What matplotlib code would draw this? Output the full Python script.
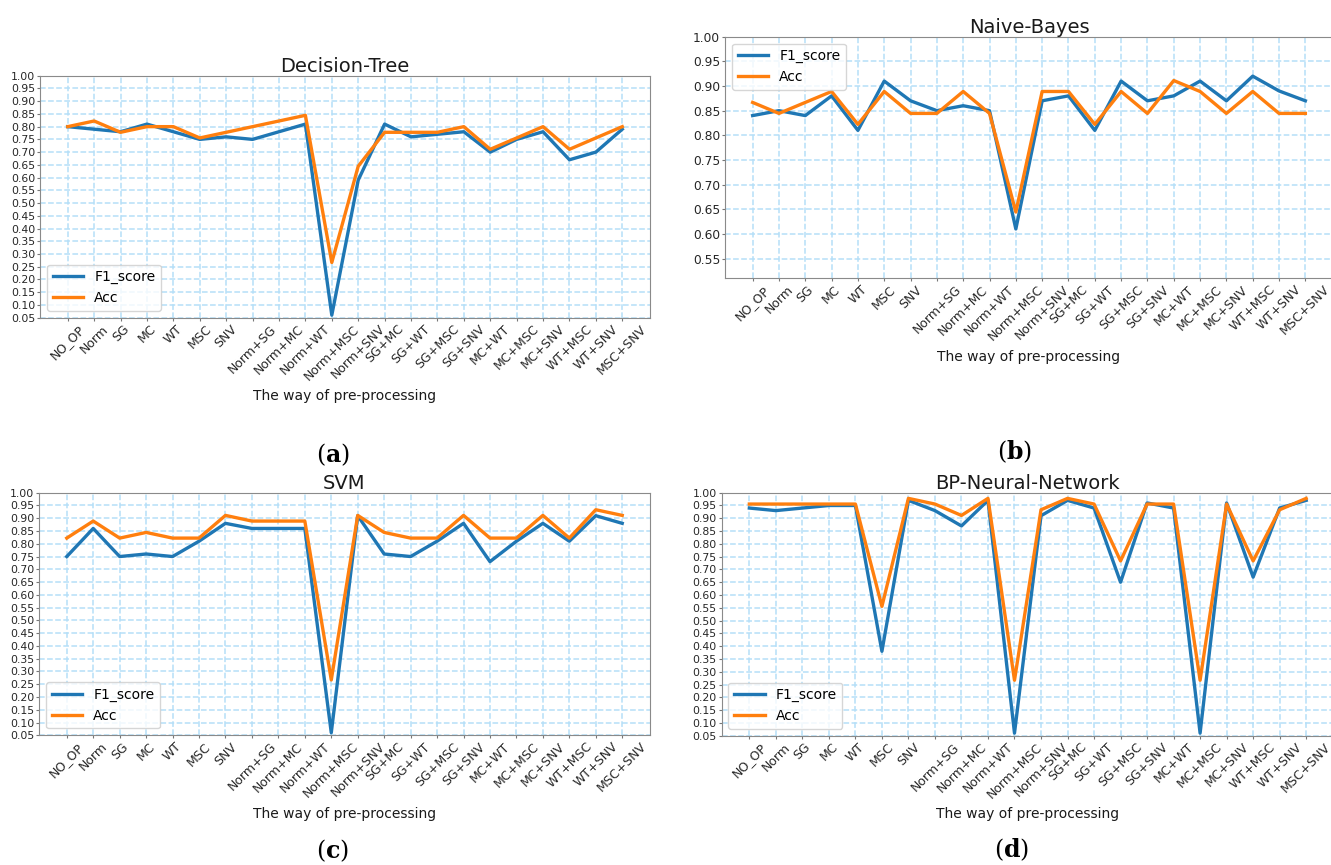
import numpy as np
import matplotlib
matplotlib.use("Agg")
import matplotlib.pyplot as plt

plt.rcParams['mathtext.fontset'] = 'dejavuserif'

# pre-processing methods on the x axis
methods = ["NO_OP", "Norm", "SG", "MC", "WT", "MSC", "SNV",
           "Norm+SG", "Norm+MC", "Norm+WT", "Norm+MSC", "Norm+SNV",
           "SG+MC", "SG+WT", "SG+MSC", "SG+SNV", "MC+WT", "MC+MSC",
           "MC+SNV", "WT+MSC", "WT+SNV", "MSC+SNV"]

# (a) Decision-Tree
dt_f1 = [0.80, 0.79, 0.78, 0.81, 0.78, 0.75, 0.76, 0.75, 0.78, 0.81, 0.06,
         0.59, 0.81, 0.76, 0.77, 0.78, 0.70, 0.75, 0.78, 0.67, 0.70, 0.79]
dt_acc = [0.8000, 0.8222, 0.7778, 0.8000, 0.8000, 0.7556, 0.7778, 0.8000,
          0.8222, 0.8444, 0.2667, 0.6444, 0.7778, 0.7778, 0.7778, 0.8000,
          0.7111, 0.7556, 0.8000, 0.7111, 0.7556, 0.8000]

# (b) Naive-Bayes
nb_f1 = [0.84, 0.85, 0.84, 0.88, 0.81, 0.91, 0.87, 0.85, 0.86, 0.85, 0.61,
         0.87, 0.88, 0.81, 0.91, 0.87, 0.88, 0.91, 0.87, 0.92, 0.89, 0.87]
nb_acc = [0.8667, 0.8444, 0.8667, 0.8889, 0.8222, 0.8889, 0.8444, 0.8444,
          0.8889, 0.8444, 0.6444, 0.8889, 0.8889, 0.8222, 0.8889, 0.8444,
          0.9111, 0.8889, 0.8444, 0.8889, 0.8444, 0.8444]

# (c) SVM
svm_f1 = [0.75, 0.86, 0.75, 0.76, 0.75, 0.81, 0.88, 0.86, 0.86, 0.86, 0.06,
          0.91, 0.76, 0.75, 0.81, 0.88, 0.73, 0.81, 0.88, 0.81, 0.91, 0.88]
svm_acc = [0.8222, 0.8889, 0.8222, 0.8444, 0.8222, 0.8222, 0.9111, 0.8889,
           0.8889, 0.8889, 0.2667, 0.9111, 0.8444, 0.8222, 0.8222, 0.9111,
           0.8222, 0.8222, 0.9111, 0.8222, 0.9333, 0.9111]

# (d) BP-Neural-Network
bp_f1 = [0.94, 0.93, 0.94, 0.95, 0.95, 0.38, 0.97, 0.93, 0.87, 0.97, 0.06,
         0.91, 0.97, 0.94, 0.65, 0.96, 0.94, 0.06, 0.96, 0.67, 0.94, 0.97]
bp_acc = [0.9556, 0.9556, 0.9556, 0.9556, 0.9556, 0.5556, 0.9778, 0.9556,
          0.9111, 0.9778, 0.2667, 0.9333, 0.9778, 0.9556, 0.7333, 0.9556,
          0.9556, 0.2667, 0.9556, 0.7333, 0.9333, 0.9778]

W, H = 1331, 865
fig = plt.figure(figsize=(W / 100, H / 100), dpi=100)


def px_axes(left, top, right, bottom):
    return fig.add_axes([left / W, 1 - bottom / H, (right - left) / W, (bottom - top) / H])


panels = [
    # title, f1, acc, box (px), ymin, legend loc, ytick size, caption, caption pos
    ("Decision-Tree", dt_f1, dt_acc, (40, 75.7, 650, 317.7), 0.05, "lower left", 7.8, "a", (333, 455)),
    ("Naive-Bayes", nb_f1, nb_acc, (725, 36.7, 1333, 278.3), 0.51, "upper left", 8.8, "b", (1015, 452)),
    ("SVM", svm_f1, svm_acc, (39, 492.7, 650, 735.3), 0.05, "lower left", 7.8, "c", (332, 851)),
    ("BP-Neural-Network", bp_f1, bp_acc, (721.5, 492.7, 1334, 735.7), 0.05, "lower left", 7.8, "d", (1012, 850)),
]

x = np.arange(len(methods))
all_ticks = np.arange(0.05, 1.001, 0.05)

for title, f1, acc, box, ymin, loc, ysize, cap, cpos in panels:
    ax = px_axes(*box)
    ax.plot(x, f1, color='#1f77b4', lw=2.4, label='F1_score')
    ax.plot(x, acc, color='#ff7f0e', lw=2.4, label='Acc')
    ax.set_ylim(ymin, 1.0)
    ax.set_yticks(all_ticks[all_ticks >= ymin - 1e-9])
    ax.yaxis.set_major_formatter(plt.FuncFormatter(lambda v, _: f'{v:.2f}'))
    ax.set_xticks(x)
    ax.set_xticklabels(methods, rotation=45, fontsize=9, color='#262626')
    ax.tick_params(axis='y', labelsize=ysize, labelcolor='#262626')
    ax.tick_params(length=2, color='#777777', pad=1.5)
    ax.grid(True, color='#b5dff8', linestyle='--', lw=1.1)
    for s in ax.spines.values():
        s.set_color('#8a8a8a')
    ax.set_title(title, fontsize=14, pad=3, color='#1a1a1a')
    ax.set_xlabel('The way of pre-processing', fontsize=10, color='#1a1a1a')
    ax.xaxis.set_label_coords(0.5, -0.295)
    ax.legend(loc=loc, fontsize=10, handlelength=2.2)
    fig.text(cpos[0] / W, 1 - cpos[1] / H, r'$(\mathbf{' + cap + r'})$',
             fontsize=17, ha='center', va='center', color='black')

fig.savefig('out.png', dpi=100)
